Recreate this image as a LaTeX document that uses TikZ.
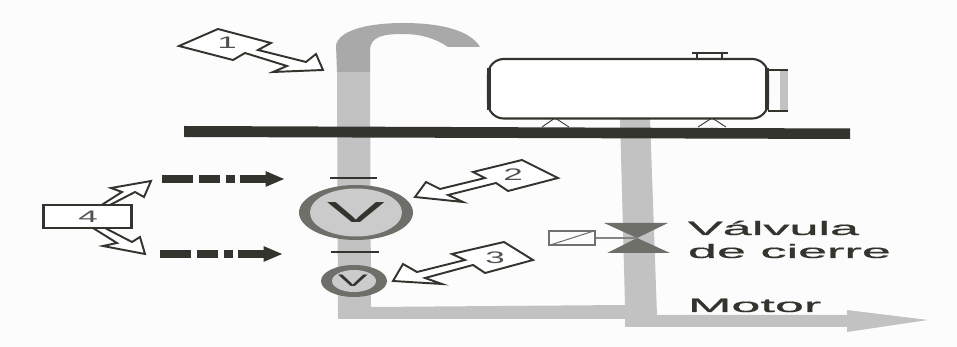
\documentclass[tikz,border=0pt]{standalone}
\usepackage{fontspec}
\setmainfont{Liberation Sans}
\newfontfamily\labelfont[FakeBold=0.6]{Liberation Sans}
\usetikzlibrary{arrows.meta}
\definecolor{pipe}{HTML}{C2C2C2}
\definecolor{pipedark}{HTML}{A9A9A9}
\definecolor{ink}{HTML}{34342F}
\definecolor{ring}{HTML}{6F6F69}
\tikzset{
  callout/.style={draw=ink,fill=white,line width=1.1pt,line join=miter},
  numlab/.style={font=\fontsize{9.5}{11}\selectfont,text=ink!85,xscale=2.1,inner sep=0pt},
  biglab/.style={font=\labelfont\fontsize{11}{13}\selectfont,text=ink,xscale=2.7,inner sep=0pt,align=left},
  sigarrow/.style={draw=ink,line width=4.5pt,dash pattern=on 17.6pt off 3.4pt on 12pt off 3.4pt on 5pt off 3pt on 80pt,-{Triangle[length=11pt,width=8pt]}}
}
\begin{document}
\begin{tikzpicture}[x=0.02cm,y=-0.02cm]
\path[use as bounding box,fill=white!99!black] (0,0) rectangle (957,347);
% piping
\fill[pipe] (337,72)--(370,72)--(371,307)--(625,305)--(620,118)--(650,118)--(657,315)--(847,315)--(847,310)--(928,320)--(847,332)--(847,327)--(625,327)--(625,319)--(338,319)--cycle;
\fill[pipedark] (337,72)--(336,45) .. controls (340,28) and (375,23) .. (403,23) .. controls (440,23) and (470,30) .. (480,47)--(448,47) .. controls (435,38) and (420,34) .. (403,34) .. controls (385,34) and (370,36) .. (370,50)--(370,72)--cycle;
% floor
\fill[ink] (184,126)--(850,128.5)--(850,139)--(184,137)--cycle;
% tank
\draw[ink,line width=0.5pt] (542,127)--(555,118)--(569,127);
\draw[ink,line width=0.5pt] (698,127)--(712,118)--(726,127);
\fill[pipe] (780,70) rectangle (788,111);
\draw[ink,line width=0.6pt] (768,70)--(788,70);
\draw[ink,line width=0.6pt] (768,111)--(788,111);
\draw[ink,line width=1.4pt] (697,60)--(697,53);
\draw[ink,line width=1.4pt] (722,60)--(722,53);
\draw[ink,line width=1.2pt] (692,53)--(728,53);
\draw[ink,line width=1.2pt,fill=white,rounded corners=9pt] (488,59) rectangle (768,118.5);
\draw[ink,line width=2.2pt] (489,68)--(489,110);
\draw[ink,line width=2.2pt] (767,68)--(767,110);
% sensors
\draw[ink,line width=1.1pt] (330,178)--(377,178);
\draw[ink,line width=1.1pt] (331,252)--(379,252);
\fill[ring] (356,212.5) ellipse (57 and 27.5);
\fill[pipe!85!white] (356,212.5) ellipse (46 and 24);
\fill[ring] (354,281) ellipse (33 and 16);
\fill[pipe!85!white] (354,281) ellipse (22 and 11);
\node[font=\fontsize{16.5}{18}\selectfont,text=ink,xscale=3,inner sep=0pt] (vbig) at (356,212.5) {V};
\node[font=\fontsize{9.5}{11}\selectfont,text=ink,xscale=2.7,inner sep=0pt] (vsmall) at (353,281) {V};
% signals
\coordinate (s1a) at (162,179);
\coordinate (s1b) at (285,179);
\coordinate (s2a) at (160,254);
\coordinate (s2b) at (283,254);
\draw[sigarrow] (s1a)--(s1b);
\draw[sigarrow] (s2a)--(s2b);
% callouts
\draw[callout] (179,46)--(218,29)--(271,43)--(258,50)--(306,62)--(316,54)--(323,70)--(273,72)--(287,66)--(245,53)--(233,60)--cycle;
\node[numlab] (n1) at (227,43) {1};
\draw[callout] (415,197)--(426,182)--(440,189)--(485,178)--(473,172)--(522,160)--(558,178)--(508,191)--(496,183)--(448,195)--(463,202)--cycle;
\node[numlab] (n2) at (513,175) {2};
\draw[callout] (393,281)--(403,264)--(417,272)--(465,260)--(452,254)--(504,242)--(533,260)--(485,273)--(473,265)--(425,278)--(442,284)--cycle;
\node[numlab] (n3) at (495,258) {3};
\draw[callout] (100,206)--(122,192)--(111,188)--(151,181)--(144,197)--(135,192)--(108,206)--cycle;
\draw[callout] (93,228)--(117,243)--(103,246)--(145,254)--(140,237)--(132,242)--(105,228)--cycle;
\node[draw=ink,fill=white,line width=1.2pt,minimum width=1.76cm,minimum height=0.46cm,inner sep=0pt] (b4) at (87.5,216.5) {};
\node[numlab] (n4) at (88,217) {4};
% valve
\coordinate (vc) at (637,238);
\fill[ring] (604,223)--(668,223)--(vc)--(670,253)--(607,253)--(vc)--cycle;
\node[draw=ink!70,line width=0.7pt,minimum width=0.92cm,minimum height=0.28cm,inner sep=0pt] (act) at (572,238) {};
\draw[ink!70,line width=0.6pt] (act.south west)--(act.north east);
\draw[ink!60,line width=0.6pt] (act)--(vc);
\node[biglab,anchor=base west] (vtxt) at (687,235) {Válvula};
\node[biglab,anchor=base west] (dtxt) at (687,258) {de cierre};
\node[biglab,anchor=base west] (mtxt) at (687,312) {Motor};
\end{tikzpicture}
\end{document}
